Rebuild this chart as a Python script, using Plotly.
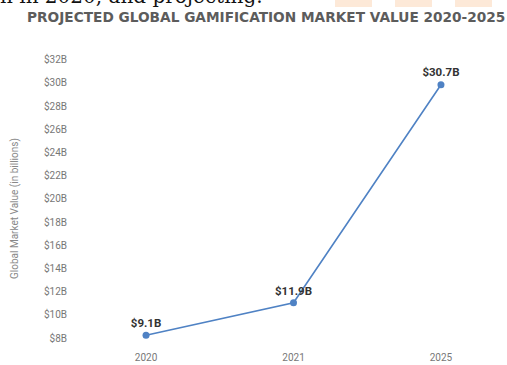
import plotly.graph_objects as go

years = ["2020", "2021", "2025"]
values = [9.1, 11.9, 30.7]
labels = ["$9.1B", "$11.9B", "$30.7B"]
tick_vals = [8, 10, 12, 14, 16, 18, 20, 22, 24, 26, 28, 30, 32]
tick_text = ["$%dB" % v for v in tick_vals]

W, H = 507, 365
ML, MR, MT, MB = 72, 10, 58, 17
plot_h = H - MT - MB
plot_w = W - ML - MR

def py_to_paper(py):
    return (H - MB - py) / plot_h

def px_to_paper(px):
    return (px - ML) / plot_w

fig = go.Figure()
fig.add_trace(go.Scatter(
    x=years, y=values, mode="lines+markers+text",
    text=["<b>%s</b>" % t for t in labels], textposition="top center",
    textfont=dict(family="Roboto", size=11.5, color="#333333"),
    line=dict(color="#4f82c4", width=1.6),
    marker=dict(color="#4f82c4", size=7),
    cliponaxis=False, hoverinfo="skip",
))

# faint orange page-background stripes peeking in at the top
for x0, x1 in [(335, 372), (395, 432), (455, 492)]:
    fig.add_shape(type="rect", xref="paper", yref="paper",
                  x0=px_to_paper(x0), x1=px_to_paper(x1),
                  y0=py_to_paper(7), y1=py_to_paper(-20),
                  fillcolor="#fde9d8", line=dict(width=0), layer="below")

# cut-off text from the surrounding page
fig.add_annotation(text="n in 2020, and projecting.", showarrow=False,
                   xref="paper", yref="paper",
                   x=px_to_paper(-2), xanchor="left",
                   y=py_to_paper(-4), yanchor="middle",
                   font=dict(family="DejaVu Serif", size=20, color="#111111"))

# y-axis title
fig.add_annotation(text="Global Market Value (in billions)", showarrow=False,
                   textangle=-90, xref="paper", yref="paper",
                   x=px_to_paper(15), xanchor="center",
                   y=py_to_paper(209), yanchor="middle",
                   font=dict(family="Roboto", size=10, color="#888888"))

fig.update_layout(
    width=W, height=H,
    margin=dict(l=ML, r=MR, t=MT, b=MB),
    paper_bgcolor="white", plot_bgcolor="white",
    showlegend=False,
    title=dict(text="<b>PROJECTED GLOBAL GAMIFICATION MARKET VALUE 2020-2025</b>",
               x=27 / W, xanchor="left", xref="container",
               y=1 - 17 / H, yanchor="middle", yref="container",
               font=dict(family="DejaVu Sans", size=13.7, color="#5c5c5c")),
    xaxis=dict(type="category", range=[-0.502, 2.38], showgrid=False,
               zeroline=False, showline=False, ticks="",
               ticklabelstandoff=2,
               tickfont=dict(family="Roboto", size=10, color="#777777"),
               automargin=False),
    yaxis=dict(range=[8, 33], tickvals=tick_vals, ticktext=tick_text,
               showgrid=False, zeroline=False, showline=False, ticks="",
               ticklabelshift=-10, ticklabelstandoff=4,
               tickfont=dict(family="Roboto", size=10, color="#777777"),
               automargin=False),
)

fig.write_html("out.html")
